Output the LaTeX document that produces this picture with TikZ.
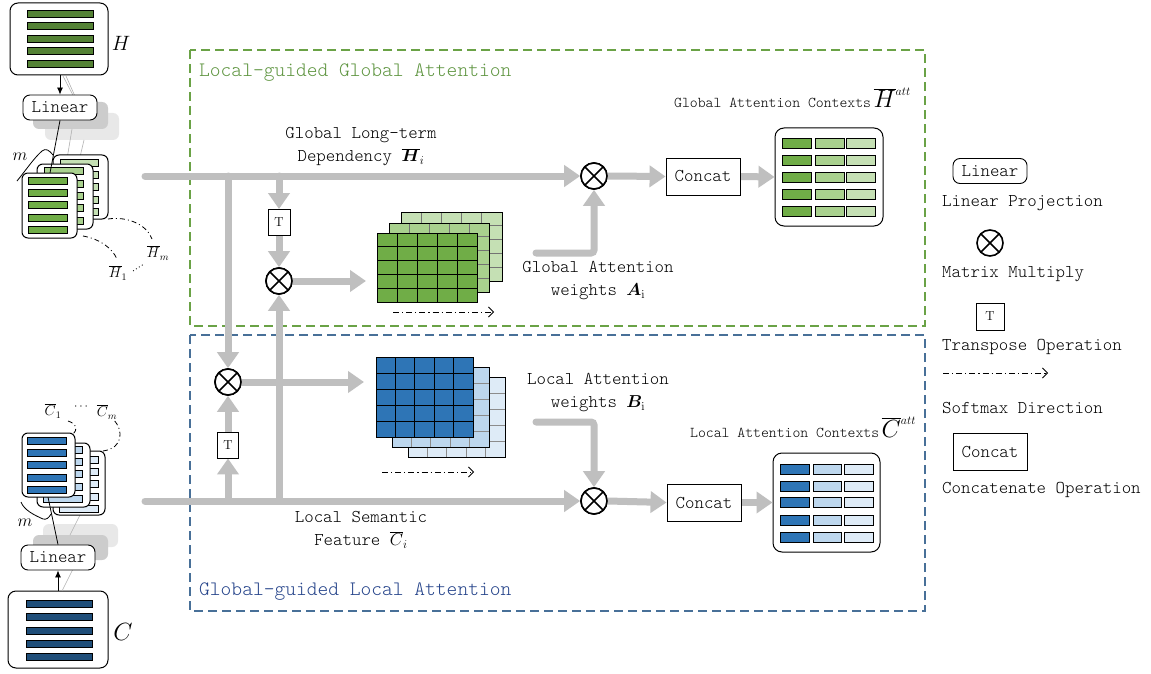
\documentclass[tikz,border=0pt]{standalone}
\usepackage{bm}
\usetikzlibrary{arrows.meta,calc}
\definecolor{lgray}{RGB}{191,191,191}
\definecolor{gA}{RGB}{112,173,71}
\definecolor{gB}{RGB}{169,209,142}
\definecolor{gC}{RGB}{197,224,180}
\definecolor{gD}{RGB}{84,130,53}
\definecolor{bA}{RGB}{46,117,182}
\definecolor{bB}{RGB}{189,215,238}
\definecolor{bC}{RGB}{222,235,247}
\definecolor{bD}{RGB}{31,78,121}
\definecolor{gframe}{RGB}{106,162,70}
\definecolor{gtitle}{RGB}{96,150,66}
\definecolor{bframe}{RGB}{72,112,152}
\definecolor{btitle}{RGB}{40,70,140}
\newcommand{\gridmat}[6]{%
  \fill[#5] (#1,#2) rectangle (#3,#4);
  \foreach \ii in {1,...,4}{%
    \draw[#6, line width=0.8pt] ({#1+(#3-#1)*\ii/5},#2) -- ({#1+(#3-#1)*\ii/5},#4);
    \draw[#6, line width=0.8pt] (#1,{#2+(#4-#2)*\ii/5}) -- (#3,{#2+(#4-#2)*\ii/5});
  }
  \draw[black, line width=1pt] (#1,#2) rectangle (#3,#4);
}
\newcommand{\cardbars}[5]{% x1 x2 firsttop step fill
  \foreach \ii in {0,...,4}{%
    \draw[fill=#5, line width=0.7pt] (#1,{#3+\ii*#4}) rectangle (#2,{#3+\ii*#4+7});
  }
}
\newcommand{\tfont}[1]{\ttfamily\fontseries{l}\fontsize{#1}{#1}\selectfont}
\tikzset{
  flow/.style={draw=lgray, line width=7pt, line cap=round, -{Triangle[width=21pt,length=16pt]}},
  otimes/.style={circle, draw, line width=1.6pt, minimum size=26pt, inner sep=0pt, fill=white,
    path picture={\draw[line width=1.6pt] (path picture bounding box.north west) -- (path picture bounding box.south east)
      (path picture bounding box.north east) -- (path picture bounding box.south west);}},
  tbox/.style={draw, line width=0.9pt, minimum width=22pt, minimum height=26pt, inner sep=0pt, fill=white,
    font=\fontsize{13}{13}\selectfont},
  concat/.style={draw, line width=0.9pt, minimum width=74pt, minimum height=37pt, inner sep=0pt, fill=white,
    font=\tfont{18}},
  linbox/.style={draw, rounded corners=7pt, line width=0.9pt, minimum width=74pt, minimum height=25pt, inner sep=0pt,
    fill=white, font=\tfont{18}},
  card/.style={draw, fill=white, rounded corners=6pt, line width=1pt},
  lbl/.style={font=\ttfamily\fontseries{l}\fontsize{18}{23}\selectfont, align=center, inner sep=0pt},
  leg/.style={font=\tfont{18}, anchor=west, inner sep=0pt},
  ctx/.style={font=\tfont{15}, anchor=base west, inner sep=0pt},
  ttl/.style={font=\tfont{20.5}, anchor=west, inner sep=0pt},
  softmax/.style={line width=0.8pt, dash pattern=on 6pt off 3pt on 1.2pt off 3pt, -{Straight Barb[length=5pt,width=10pt]}},
  dd/.style={line width=0.8pt, dash pattern=on 5pt off 3pt on 1pt off 3pt},
  shadowA/.style={fill=black!9, rounded corners=6pt},
  shadowB/.style={fill=black!20, rounded corners=6pt},
  faint/.style={draw=black!30, line width=0.6pt},
}
\begin{document}
\begin{tikzpicture}[x=1pt,y=-1pt]
\useasboundingbox (0,0) rectangle (1151,674);
\fill[white] (0,0) rectangle (1151,674);

% ---------- dashed frames ----------
\draw[gframe, line width=1.3pt, dash pattern=on 9pt off 5pt] (190,50) rectangle (925,326);
\draw[bframe, line width=1.3pt, dash pattern=on 9pt off 5pt] (190,335) rectangle (925,611);
\node[ttl, text=gtitle] (t_glob) at (199,73) {Local-guided Global Attention};
\node[ttl, text=btitle] (t_loc) at (199,592) {Global-guided Local Attention};

% ---------- operator nodes ----------
\node[otimes] (m1) at (594,176) {};
\node[otimes] (m2) at (279,281) {};
\node[otimes] (m3) at (228,382) {};
\node[otimes] (m4) at (594,501) {};
\node[tbox] (t1) at (279,222.5) {T};
\node[tbox, minimum width=21pt] (t2) at (228,445) {T};
\node[concat] (cc1) at (703,176.5) {Concat};
\node[concat] (cc2) at (704,502.5) {Concat};
\node[draw, rounded corners=9pt, line width=1pt, minimum width=108pt, minimum height=98pt, inner sep=0pt] (o1) at (829,177) {};
\node[draw, rounded corners=9pt, line width=1pt, minimum width=107pt, minimum height=99pt, inner sep=0pt] (o2) at (826.5,502.5) {};

\coordinate (hs) at (145,176);
\coordinate (cs) at (145,501);
\coordinate (gin) at (366,281);
\coordinate (bin) at (364,382);
\coordinate (aw) at (536,253);
\coordinate (bw) at (536,422);

% ---------- gray flows ----------
\draw[flow] (hs) -- (m1.west);
\draw[flow] (cs) -- (m4.west);
\draw[flow] (hs -| m3) -- (m3.north);
\draw[flow] (hs -| t1) -- (t1.north);
\draw[flow] (t1.south) -- (m2.north);
\draw[flow] (cs -| m2) -- (m2.south);
\draw[flow] (cs -| t2) -- (t2.south);
\draw[flow] (t2.north) -- (m3.south);
\draw[flow] (m2.east) -- (gin);
\draw[flow] (m3.east) -- (bin);
\draw[flow, rounded corners=3pt] (aw) -| (m1.south);
\draw[flow, rounded corners=3pt] (bw) -| (m4.north);
\draw[flow] (m1.east) -- (cc1.west);
\draw[flow] (cc1.east) -- (o1.west);
\draw[flow] (m4.east) -- (cc2.west);
\draw[flow] (cc2.east) -- (o2.west);

% redraw operator nodes on top
\node[otimes] at (m1) {};
\node[otimes] at (m2) {};
\node[otimes] at (m3) {};
\node[otimes] at (m4) {};
\node[tbox] at (t1) {T};
\node[tbox, minimum width=21pt] at (t2) {T};
\node[concat] at (cc1) {Concat};
\node[concat] at (cc2) {Concat};

% ---------- attention matrices ----------
\gridmat{401}{212}{502}{281}{gC}{black!55}
\gridmat{389}{223}{489}{292}{gB}{black!55}
\gridmat{377}{233}{477}{302}{gA}{black}
\draw[softmax] (393,312) -- (494,312);

\gridmat{408}{377}{505}{457}{bC}{black!45}
\gridmat{392}{367}{489}{447}{bB}{black!45}
\gridmat{376}{357}{473}{437}{bA}{black}
\draw[softmax] (382,472) -- (474,472);

% ---------- output contexts ----------
\foreach \yy in {138,155,172,189,206}{%
  \draw[fill=gA, line width=0.8pt] (782,\yy) rectangle (811,\yy+10);
  \draw[fill=gB, line width=0.8pt] (815,\yy) rectangle (844,\yy+10);
  \draw[fill=gC, line width=0.8pt] (846,\yy) rectangle (875,\yy+10);
}
\foreach \yy in {464,481,497.5,515,532}{%
  \draw[fill=bA, line width=0.8pt] (780,\yy) rectangle (809,\yy+10);
  \draw[fill=bB, line width=0.8pt] (813,\yy) rectangle (841,\yy+10);
  \draw[fill=bC, line width=0.8pt] (844,\yy) rectangle (873,\yy+10);
}

% ---------- labels ----------
\node[lbl] (lab_h) at (361,147) {Global Long-term\\Dependency $\overline{\bm{H}}_{i}$};
\node[lbl] (lab_a) at (598,281) {Global Attention\\weights $\bm{A}_{\mathrm{i}}$};
\node[lbl] (lab_b) at (598,393) {Local Attention\\weights $\bm{B}_{\mathrm{i}}$};
\node[lbl] (lab_c) at (361,530) {Local Semantic\\Feature $\overline{C}_{i}$};
\node[ctx] (ctx_h) at (674,108) {Global Attention Contexts\,{\rmfamily\fontseries{m}\fontsize{24}{24}\selectfont$\overline{H}^{\scriptscriptstyle att}$}};
\node[ctx] (ctx_c) at (690,437) {Local Attention Contexts\,{\rmfamily\fontseries{m}\fontsize{24}{24}\selectfont$\overline{C}^{\scriptscriptstyle att}$}};

% ---------- legend ----------
\node[linbox] (lg_lin) at (990,171) {Linear};
\node[leg] (lg_lin_t) at (942,203) {Linear Projection};
\node[otimes] (lg_mul) at (990,243) {};
\node[leg] (lg_mul_t) at (942,274) {Matrix Multiply};
\node[tbox, minimum width=28pt, minimum height=27pt] (lg_t) at (990,316.5) {T};
\node[leg] (lg_t_t) at (942,347) {Transpose Operation};
\coordinate (lg_s1) at (943,373);
\coordinate (lg_s2) at (1048,373);
\draw[softmax] (lg_s1) -- (lg_s2);
\node[leg] (lg_s_t) at (942,408) {Softmax Direction};
\node[concat] (lg_cc) at (990,452) {Concat};
\node[leg] (lg_cc_t) at (942,490) {Concatenate Operation};

% ---------- left: H input ----------
\node[draw, rounded corners=8pt, line width=1pt, minimum width=98pt, minimum height=72pt, inner sep=0pt] (hbox) at (59,39) {};
\foreach \yy in {10,22.5,35,47.5,60}{\draw[fill=gD, line width=0.7pt] (27,\yy) rectangle (93,\yy+7);}
\node (hlab) at (121,43) {\fontsize{22}{22}\selectfont$H$};
\draw[faint] (63,76) -- (76,101);
\draw[faint] (66,76) -- (82,112);
\fill[shadowA] (45,113) rectangle (119,140);
\fill[shadowB] (33,102) rectangle (108,129);
\node[linbox] (lin1) at (60,107.5) {Linear};
\draw[line width=0.8pt, -{Latex[length=7pt,width=6pt]}] (hbox.south -| lin1) -- (lin1.north);
\draw[faint] (72,129) -- (66,165);
\draw[faint] (84,140) -- (80,157);
% cards
\draw[card] (53,155) rectangle (108,219);
\cardbars{60}{98}{159}{12.4}{gC}
\draw[card] (37,164) rectangle (93,229);
\cardbars{44}{83}{167.5}{12.4}{gB}
\coordinate (hc) at (50,173);
\draw[line width=0.8pt] (lin1.south) -- (hc);
\draw[card] (22,173) rectangle (77,238);
\cardbars{28}{67}{177}{12.4}{gA}
\draw[line width=0.8pt] (17,181) .. controls (26,170) and (34,158) .. (42,151) .. controls (46,148) and (49,150) .. (53,155);
\node (hm) at (20,157) {\fontsize{17}{17}\selectfont$m$};
\draw[dd] (83,236) .. controls (100,239) and (112,248) .. (117,259);
\draw[dd] (108,219) .. controls (128,216) and (147,225) .. (152,239);
\draw[line width=0.8pt, dash pattern=on 1pt off 2.5pt] (133,271) -- (144,264);
\node (h1) at (118,273) {\fontsize{14}{14}\selectfont$\overline{H}_{1}$};
\node (hmm) at (158,253) {\fontsize{14}{14}\selectfont$\overline{H}_{m}$};

% ---------- left: C input ----------
\node[draw, rounded corners=8pt, line width=1pt, minimum width=100pt, minimum height=77pt, inner sep=0pt] (cbox) at (58,629.5) {};
\foreach \yy in {600,613.5,627,640,653}{\draw[fill=bD, line width=0.7pt] (26,\yy) rectangle (92,\yy+7);}
\node (clab) at (123,632) {\fontsize{24}{24}\selectfont$C$};
\fill[shadowA] (43,524) rectangle (118,547);
\fill[shadowB] (33,535) rectangle (108,560);
\draw[faint] (80,515) -- (70,535);
\draw[faint] (62,591) -- (75,565);
\node[linbox] (lin2) at (58,557.5) {Linear};
\draw[line width=0.8pt, -{Latex[length=7pt,width=6pt]}] (cbox.north -| lin2) -- (lin2.south);
% cards
\draw[card] (53,451) rectangle (105,515);
\cardbars{59}{98}{456}{12.4}{bC}
\draw[card] (37,443) rectangle (90,507);
\cardbars{43}{82}{446}{12.4}{bB}
\coordinate (cc) at (48,497);
\draw[line width=0.8pt] (lin2.north) -- (cc);
\draw[card] (22,433) rectangle (75,497);
\cardbars{27}{66}{437}{12.4}{bA}
\draw[line width=0.8pt] (21,502) .. controls (24,510) and (34,515) .. (43,519) .. controls (46,520) and (49,518) .. (51,514);
\node (cm) at (25,523) {\fontsize{17}{17}\selectfont$m$};
\node (c1) at (53,411) {\fontsize{14}{14}\selectfont$\overline{C}_{1}$};
\node (cdots) at (81,407) {\fontsize{12}{12}\selectfont$\cdots$};
\node (cmm) at (107,412) {\fontsize{14}{14}\selectfont$\overline{C}_{m}$};
\draw[dd] (68,421) .. controls (77,424) and (78,429) .. (73,434);
\draw[dd] (103,451) .. controls (124,448) and (123,430) .. (114,420);
\end{tikzpicture}
\end{document}
